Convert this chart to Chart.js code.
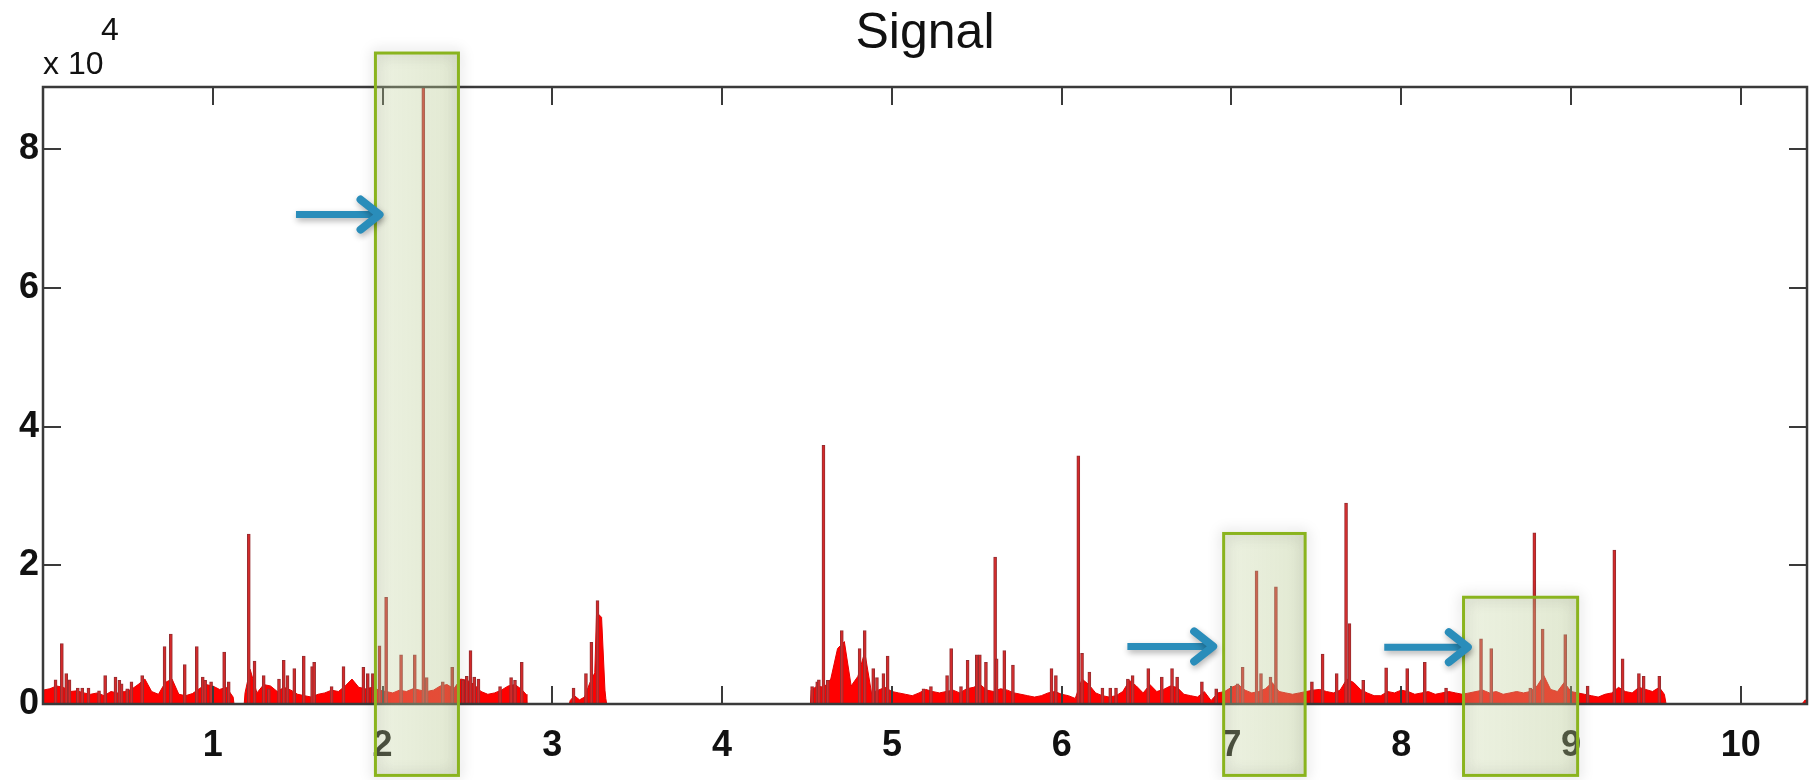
<!DOCTYPE html>
<html>
<head>
<meta charset="utf-8">
<title>Signal</title>
<script src="https://cdn.jsdelivr.net/npm/chart.js@4.4.1/dist/chart.umd.min.js"></script>
<style>
  html, body { margin: 0; padding: 0; background: #fff; }
  #wrap { width: 1818px; height: 780px; position: relative; }
</style>
</head>
<body>
<div id="wrap"><canvas id="signal-chart"></canvas></div>
<script>
// signal values are in units of 10^4
const X_MAX = 10.39;
const Y_MAX = 8.9;
const xTicks = [1, 2, 3, 4, 5, 6, 7, 8, 9, 10];
const yTicks = [0, 2, 4, 6, 8];

// low-level envelope of the signal (filled red)
const floorX = [
  0.00, 0.04, 0.08, 0.12, 0.16, 0.20, 0.24, 0.28, 0.32, 0.36, 0.40, 0.44, 0.48, 0.52, 0.56,
  0.60, 0.64, 0.68, 0.72, 0.76, 0.80, 0.84, 0.88, 0.92, 0.96, 1.00, 1.04, 1.08, 1.12, 1.125,
  1.185, 1.19, 1.22, 1.26, 1.30, 1.34, 1.38, 1.42, 1.46, 1.50, 1.54, 1.58, 1.62, 1.66, 1.70,
  1.74, 1.78, 1.82, 1.86, 1.90, 1.94, 1.98, 2.02, 2.06, 2.10, 2.14, 2.18, 2.22, 2.26, 2.30,
  2.34, 2.38, 2.42, 2.46, 2.50, 2.54, 2.58, 2.62, 2.66, 2.70, 2.74, 2.78, 2.82, 2.845, 2.85,
  3.10, 3.105, 3.13, 3.16, 3.19, 3.22, 3.25, 3.262, 3.27, 3.29, 3.31, 3.315, 3.32,
  4.52, 4.525, 4.56, 4.60, 4.64, 4.68, 4.72, 4.76, 4.80, 4.84, 4.88, 4.92, 4.96, 5.00, 5.04,
  5.08, 5.12, 5.16, 5.20, 5.24, 5.28, 5.32, 5.36, 5.40, 5.44, 5.48, 5.52, 5.56, 5.60, 5.64,
  5.68, 5.72, 5.76, 5.80, 5.84, 5.88, 5.92, 5.96, 6.00, 6.04, 6.08, 6.12, 6.16, 6.20, 6.24,
  6.28, 6.32, 6.36, 6.40, 6.44, 6.48, 6.52, 6.56, 6.60, 6.64, 6.68, 6.72, 6.76, 6.80, 6.84,
  6.88, 6.92, 6.96, 7.00, 7.04, 7.08, 7.12, 7.16, 7.20, 7.24, 7.28, 7.32, 7.36, 7.40, 7.44,
  7.48, 7.52, 7.56, 7.60, 7.64, 7.68, 7.72, 7.76, 7.80, 7.84, 7.88, 7.92, 7.96, 8.00, 8.04,
  8.08, 8.12, 8.16, 8.20, 8.24, 8.28, 8.32, 8.36, 8.40, 8.44, 8.48, 8.52, 8.56, 8.60, 8.64,
  8.68, 8.72, 8.76, 8.80, 8.84, 8.88, 8.92, 8.96, 9.00, 9.04, 9.08, 9.12, 9.16, 9.20, 9.24,
  9.28, 9.32, 9.36, 9.40, 9.44, 9.48, 9.52, 9.55, 9.56,
  10.36, 10.38, 10.39
];
const floorY = [
  0.20, 0.22, 0.26, 0.24, 0.18, 0.19, 0.16, 0.14, 0.16, 0.12, 0.18, 0.16, 0.18, 0.21, 0.28,
  0.36, 0.18, 0.14, 0.31, 0.36, 0.14, 0.12, 0.15, 0.22, 0.28, 0.26, 0.21, 0.24, 0.10, 0,
  0, 0.16, 0.50, 0.16, 0.28, 0.26, 0.18, 0.24, 0.20, 0.14, 0.12, 0.10, 0.14, 0.16, 0.20,
  0.18, 0.26, 0.36, 0.24, 0.22, 0.24, 0.20, 0.18, 0.16, 0.20, 0.18, 0.22, 0.20, 0.18, 0.20,
  0.26, 0.28, 0.22, 0.36, 0.34, 0.28, 0.18, 0.14, 0.16, 0.20, 0.26, 0.28, 0.21, 0.14, 0,
  0, 0.05, 0.12, 0.06, 0.10, 0.30, 0.45, 1.45, 1.30, 1.25, 0.20, 0.08, 0,
  0, 0.20, 0.26, 0.24, 0.36, 0.80, 0.90, 0.26, 0.40, 0.75, 0.16, 0.20, 0.24, 0.18, 0.16,
  0.14, 0.12, 0.16, 0.21, 0.18, 0.16, 0.18, 0.20, 0.16, 0.22, 0.24, 0.28, 0.20, 0.18, 0.22,
  0.20, 0.16, 0.14, 0.12, 0.10, 0.12, 0.16, 0.18, 0.14, 0.12, 0.08, 0.36, 0.28, 0.16, 0.12,
  0.10, 0.12, 0.18, 0.34, 0.26, 0.16, 0.28, 0.18, 0.21, 0.26, 0.24, 0.14, 0.12, 0.10, 0.18,
  0.05, 0.16, 0.18, 0.24, 0.28, 0.20, 0.16, 0.18, 0.22, 0.31, 0.18, 0.16, 0.14, 0.16, 0.18,
  0.20, 0.21, 0.18, 0.16, 0.20, 0.36, 0.31, 0.21, 0.16, 0.12, 0.12, 0.18, 0.16, 0.20, 0.18,
  0.14, 0.16, 0.18, 0.14, 0.16, 0.18, 0.16, 0.14, 0.16, 0.18, 0.20, 0.16, 0.18, 0.14, 0.16,
  0.18, 0.16, 0.18, 0.26, 0.41, 0.21, 0.18, 0.31, 0.18, 0.16, 0.14, 0.12, 0.10, 0.14, 0.16,
  0.24, 0.18, 0.16, 0.24, 0.21, 0.18, 0.24, 0.14, 0,
  0, 0.06, 0
];

// narrow peaks rising above the envelope
const spikeX = [
  0.074, 0.111, 0.137, 0.156, 0.205, 0.231, 0.268, 0.330, 0.366, 0.427, 0.450, 0.463, 0.496,
  0.521, 0.584, 0.716, 0.753, 0.835, 0.906, 0.941, 0.955, 0.990, 1.067, 1.094,
  1.212, 1.246, 1.300, 1.330, 1.390, 1.418, 1.440, 1.480, 1.536, 1.585, 1.597, 1.700, 1.770,
  1.887, 1.913, 1.943, 1.982, 2.021, 2.109, 2.190, 2.240, 2.260, 2.355, 2.410, 2.473, 2.496,
  2.518, 2.540, 2.565, 2.692, 2.757, 2.780, 2.820,
  3.125, 3.198, 3.230, 3.266,
  4.530, 4.560, 4.570, 4.597, 4.622, 4.705, 4.810, 4.840, 4.890, 4.912, 4.950, 4.975, 5.186,
  5.230, 5.325, 5.349, 5.407, 5.446, 5.500, 5.518, 5.554, 5.608, 5.617, 5.662, 5.713, 5.940,
  5.966, 6.098, 6.120, 6.163, 6.240, 6.286, 6.320, 6.390, 6.418, 6.510, 6.590, 6.650, 6.680,
  6.826, 6.910, 7.036, 7.066, 7.148, 7.174, 7.230, 7.262, 7.474, 7.537, 7.620, 7.675, 7.695,
  7.776, 7.911, 8.035, 8.139, 8.264, 8.470, 8.530, 8.760, 8.784, 8.833, 8.966, 9.098, 9.255,
  9.304, 9.400, 9.428, 9.520
];
const spikeY = [
  0.35, 0.87, 0.44, 0.35, 0.23, 0.23, 0.23, 0.19, 0.41, 0.39, 0.34, 0.29, 0.22,
  0.32, 0.41, 0.83, 1.01, 0.57, 0.83, 0.39, 0.34, 0.32, 0.75, 0.32,
  2.45, 0.62, 0.41, 0.22, 0.36, 0.63, 0.41, 0.51, 0.69, 0.54, 0.60, 0.25, 0.54,
  0.53, 0.44, 0.44, 0.84, 1.54, 0.71, 0.71, 8.90, 0.38, 0.32, 0.53, 0.35, 0.40,
  0.77, 0.39, 0.36, 0.25, 0.38, 0.34, 0.60,
  0.23, 0.44, 0.89, 1.49,
  0.25, 0.32, 0.35, 3.73, 0.34, 1.06, 0.80, 1.06, 0.51, 0.38, 0.44, 0.69, 0.22,
  0.25, 0.41, 0.80, 0.25, 0.63, 0.71, 0.71, 0.60, 2.12, 0.65, 0.77, 0.56, 0.51,
  0.41, 3.58, 0.73, 0.46, 0.23, 0.23, 0.23, 0.36, 0.41, 0.51, 0.39, 0.51, 0.39,
  0.32, 0.22, 0.29, 0.53, 1.92, 0.44, 0.39, 1.69, 0.32, 0.72, 0.44, 2.90, 1.16,
  0.34, 0.52, 0.51, 0.60, 0.23, 0.94, 0.80, 0.23, 2.47, 1.08, 1.00, 0.26, 2.22,
  0.65, 0.44, 0.40, 0.40
];

// highlighted regions and the arrows pointing at them
const boxLeft = [1.958, 6.954, 8.367];
const boxRight = [2.447, 7.434, 9.039];
const boxTop = [9.39, 2.46, 1.54];
const boxBottom = [-1.03, -1.03, -1.03];
const arrowStart = [1.49, 6.387, 7.90];
const arrowEnd = [2.00, 6.91, 8.41];
const arrowY = [7.06, 0.83, 0.82];

const FONT_FAMILY = "'Liberation Sans', Arial, sans-serif";
const TICK_FONT = { family: FONT_FAMILY, size: 36, weight: "bold" };

const axisFrame = {
  id: "axisFrame",
  afterDatasetsDraw(chart) {
    const { ctx, chartArea: a, scales: { x, y } } = chart;
    ctx.save();
    ctx.strokeStyle = "#3a3a3a";
    ctx.lineWidth = 2.5;
    ctx.strokeRect(a.left, a.top, a.right - a.left, a.bottom - a.top);

    // inward tick marks on all four sides
    ctx.lineWidth = 2;
    ctx.beginPath();
    xTicks.forEach(v => {
      const px = Math.round(x.getPixelForValue(v));
      ctx.moveTo(px, a.bottom);
      ctx.lineTo(px, a.bottom - 18);
      ctx.moveTo(px, a.top);
      ctx.lineTo(px, a.top + 18);
    });
    yTicks.forEach(v => {
      const py = Math.round(y.getPixelForValue(v));
      ctx.moveTo(a.left, py);
      ctx.lineTo(a.left + 18, py);
      ctx.moveTo(a.right, py);
      ctx.lineTo(a.right - 18, py);
    });
    ctx.stroke();
    ctx.restore();
  }
};

const markup = {
  id: "markup",
  afterDraw(chart) {
    const { ctx, chartArea: a, scales: { x, y } } = chart;

    // exponent of the y axis
    ctx.save();
    ctx.fillStyle = "#111";
    ctx.font = "32px " + FONT_FAMILY;
    ctx.textBaseline = "middle";
    ctx.textAlign = "left";
    ctx.fillText("x 10", a.left, a.top - 22);
    ctx.fillText("4", a.left + 58, a.top - 56);
    ctx.restore();

    // shaded boxes
    boxLeft.forEach((x0, i) => {
      const l = x.getPixelForValue(x0);
      const r = x.getPixelForValue(boxRight[i]);
      const t = y.getPixelForValue(boxTop[i]);
      const b = y.getPixelForValue(boxBottom[i]);
      ctx.save();
      const grad = ctx.createLinearGradient(l, 0, r, 0);
      grad.addColorStop(0, "rgba(196, 212, 160, 0.32)");
      grad.addColorStop(1, "rgba(180, 198, 140, 0.40)");
      ctx.fillStyle = grad;
      ctx.fillRect(l, t, r - l, b - t);
      ctx.shadowColor = "rgba(0, 0, 0, 0.28)";
      ctx.shadowBlur = 14;
      ctx.strokeStyle = "#8ab41e";
      ctx.lineWidth = 3;
      ctx.strokeRect(l, t, r - l, b - t);
      ctx.restore();
    });

    arrowStart.forEach((x0, i) => {
      const sx = x.getPixelForValue(x0);
      const ex = x.getPixelForValue(arrowEnd[i]);
      const py = y.getPixelForValue(arrowY[i]);
      ctx.save();
      ctx.strokeStyle = "#2a8dba";
      ctx.shadowColor = "rgba(0, 0, 0, 0.3)";
      ctx.shadowBlur = 6;
      ctx.shadowOffsetX = 1;
      ctx.shadowOffsetY = 3;
      ctx.lineWidth = 7;
      ctx.lineCap = "butt";
      ctx.beginPath();
      ctx.moveTo(sx, py);
      ctx.lineTo(ex - 4, py);
      ctx.stroke();
      ctx.lineWidth = 8;
      ctx.lineCap = "round";
      ctx.lineJoin = "round";
      ctx.beginPath();
      ctx.moveTo(ex - 22, py - 15);
      ctx.lineTo(ex - 3, py);
      ctx.lineTo(ex - 22, py + 15);
      ctx.stroke();
      ctx.restore();
    });
  }
};

const chart = new Chart(document.getElementById("signal-chart"), {
  type: "line",
  data: {
    datasets: [
      {
        type: "bar",
        label: "peaks",
        data: spikeX.map((v, i) => ({ x: v, y: spikeY[i] })),
        backgroundColor: "#d42a2a",
        borderColor: "#962d30",
        borderWidth: { left: 1, right: 1, top: 1, bottom: 0 },
        barThickness: 3,
        grouped: false,
        order: 1
      },
      {
        type: "line",
        label: "envelope",
        data: floorX.map((v, i) => ({ x: v, y: floorY[i] })),
        backgroundColor: "#ff0000",
        borderColor: "#e40000",
        borderWidth: 1,
        pointRadius: 0,
        tension: 0,
        fill: "origin",
        order: 2
      }
    ]
  },
  options: {
    responsive: true,
    maintainAspectRatio: false,
    animation: false,
    devicePixelRatio: 1,
    layout: { padding: { top: 0, right: 11, bottom: 0, left: 0 } },
    scales: {
      x: {
        type: "linear",
        min: 0,
        max: X_MAX,
        offset: false,
        grid: { display: false, drawTicks: false },
        border: { display: false },
        ticks: {
          stepSize: 1,
          includeBounds: false,
          padding: 20,
          maxRotation: 0,
          autoSkip: false,
          color: "#111",
          font: TICK_FONT,
          callback: v => (v === 0 ? "" : v)
        },
        afterFit: scale => { scale.height = 76; }
      },
      y: {
        min: 0,
        max: Y_MAX,
        grid: { display: false, drawTicks: false },
        border: { display: false },
        ticks: {
          stepSize: 2,
          includeBounds: false,
          padding: 4,
          color: "#111",
          font: TICK_FONT
        },
        afterFit: scale => { scale.width = 43; }
      }
    },
    plugins: {
      legend: { display: false },
      tooltip: { enabled: false },
      title: {
        display: true,
        text: "Signal",
        fullSize: false,
        color: "#111",
        font: { family: FONT_FAMILY, size: 50, weight: "normal" },
        padding: { top: 4, bottom: 23 }
      }
    }
  },
  plugins: [axisFrame, markup]
});
</script>
</body>
</html>
